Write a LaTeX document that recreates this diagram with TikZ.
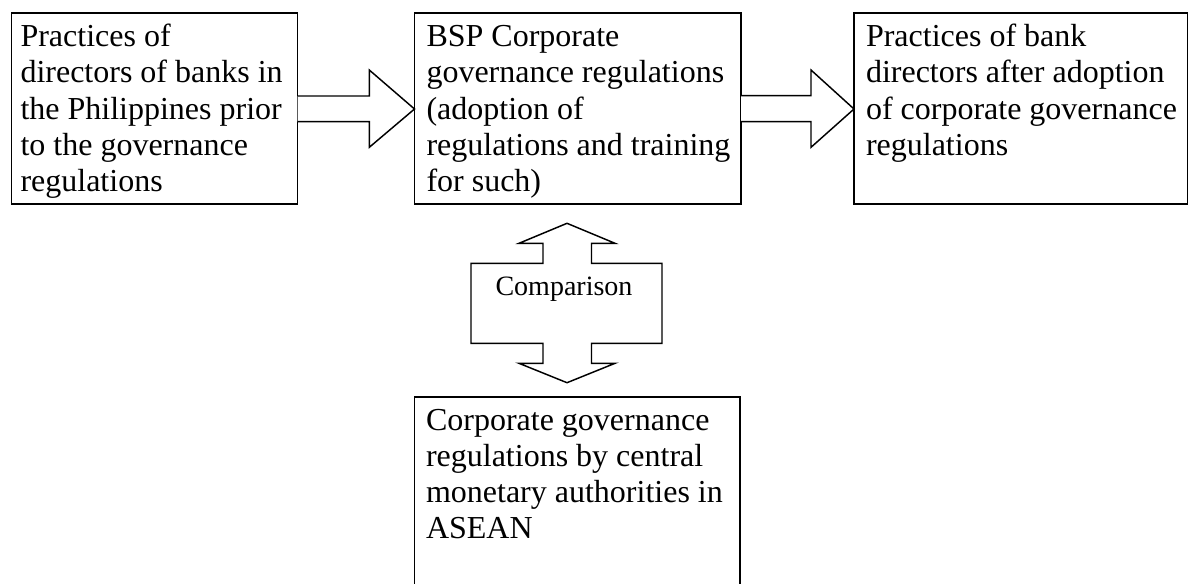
\documentclass[tikz,border=0pt]{standalone}
\usepackage{fontspec}
\setmainfont{Liberation Serif}
\usetikzlibrary{calc}
\newdimen\pxu \pxu=0.75pt
\tikzset{
  boxnode/.style={draw, line width=1.4pt, inner sep=0pt, outer sep=0pt, anchor=north west},
  txtnode/.style={inner sep=0pt, outer sep=0pt, anchor=base west, font=\fontsize{24}{27.2}\selectfont},
  blockarrow/.style={draw, line width=1.1pt, line join=miter, fill=white},
  cmplabel/.style={inner sep=0pt, anchor=base, font=\fontsize{21}{25}\selectfont}
}
\newcommand{\boxpar}[2]{\parbox[t]{#1\pxu}{\raggedright #2}}
\begin{document}
\begin{tikzpicture}[x=0.75pt, y=-0.75pt]
\clip (0,0) rectangle (1189,583);
\fill[white] (0,0) rectangle (1189,583);

% boxes
\node[boxnode, minimum width=286\pxu, minimum height=191.6\pxu] (b1) at (11.5,12.7) {};
\node[boxnode, minimum width=326.5\pxu, minimum height=191.6\pxu] (b2) at (414.5,12.7) {};
\node[boxnode, minimum width=333.5\pxu, minimum height=191.6\pxu] (b3) at (854,12.7) {};
\node[boxnode, minimum width=325.5\pxu, minimum height=210\pxu] (b4) at (414.5,397) {};

% texts
\node[txtnode] (t1) at (20.5,46.7) {\boxpar{275}{Practices of\\directors of banks in\\the Philippines prior\\to the governance\\regulations}};
\node[txtnode] (t2) at (426.5,46.7) {\boxpar{312}{BSP Corporate\\governance regulations\\(adoption of\\regulations and training\\for such)}};
\node[txtnode] (t3) at (866,46.7) {\boxpar{320}{Practices of bank\\directors after adoption\\of corporate governance\\regulations}};
\node[txtnode] (t4) at (426,430) {\boxpar{312}{Corporate governance\\regulations by central\\monetary authorities in\\ASEAN}};

% block arrow 1
\draw[blockarrow] (b1.east |- 0,96) -- (369.3,96) -- (369.3,70) -- (b2.west |- 0,109)
  -- (369.3,147.3) -- (369.3,121.7) -- (b1.east |- 0,121.7);
% block arrow 2
\draw[blockarrow] (b2.east |- 0,95.7) -- (811,95.7) -- (811,70) -- (b3.west |- 0,109)
  -- (811,147.3) -- (811,121.7) -- (b2.east |- 0,121.7);

% comparison double arrow
\coordinate (ctop) at (567,223.3);
\coordinate (cbot) at (567,382.7);
\draw[blockarrow] (ctop) -- (615,243.3) -- (591.5,243.3) -- (591.5,263.3) -- (662,263.3)
  -- (662,343.3) -- (591.5,343.3) -- (591.5,363.3) -- (615,363.3) -- (cbot)
  -- (519,363.3) -- (543,363.3) -- (543,343.3) -- (471,343.3) -- (471,263.3)
  -- (543,263.3) -- (543,243.3) -- (519,243.3) -- cycle;
\node[cmplabel] (cmp) at (564,295) {Comparison};
\end{tikzpicture}
\end{document}
